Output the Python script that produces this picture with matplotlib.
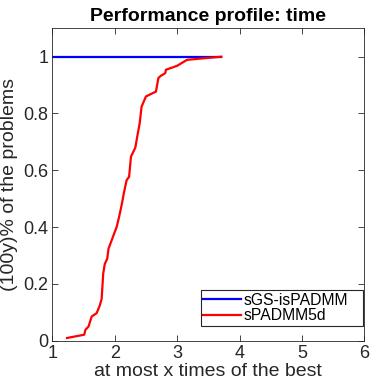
import numpy as np
import matplotlib
matplotlib.use("Agg")
import matplotlib.pyplot as plt

plt.rcParams['font.family'] = ['Liberation Sans', 'DejaVu Sans']

# performance profile values
x_gs = [1.0, 3.71]
y_gs = [1.0, 1.0]

x_sp = [1.235, 1.51, 1.53, 1.58, 1.63, 1.71, 1.76, 1.79, 1.815, 1.84, 1.88, 1.90,
        1.95, 1.99, 2.03, 2.07, 2.11, 2.15, 2.19, 2.23, 2.26, 2.33, 2.36, 2.40,
        2.43, 2.50, 2.66, 2.70, 2.74, 2.81, 2.82, 3.00, 3.16, 3.71]
y_sp = [0.0095, 0.021, 0.038, 0.05, 0.085, 0.097, 0.124, 0.147, 0.236, 0.27, 0.289, 0.324,
        0.353, 0.377, 0.40, 0.436, 0.477, 0.524, 0.565, 0.577, 0.648, 0.68, 0.718, 0.766,
        0.824, 0.86, 0.877, 0.925, 0.933, 0.942, 0.954, 0.968, 0.989, 1.0]

grey = '#262626'

fig = plt.figure(figsize=(3.74, 3.84), dpi=100)
ax = fig.add_axes([0.140, 0.1128, 0.834, 0.8135])

ax.plot(x_gs, y_gs, color='#0000ff', lw=1.6, label='sGS-isPADMM')
ax.plot(x_sp, y_sp, color='#ff0000', lw=1.6, label='sPADMM5d')

ax.set_xlim(1, 6)
ax.set_ylim(0, 1.1)
ax.set_xticks([1, 2, 3, 4, 5, 6])
ax.set_yticks([0, 0.2, 0.4, 0.6, 0.8, 1])
ax.set_yticklabels(['0', '0.2', '0.4', '0.6', '0.8', '1'])
ax.tick_params(direction='in', top=True, right=True, labelsize=13, length=4, width=0.6,
               colors=grey, pad=3)
for s in ax.spines.values():
    s.set_linewidth(0.6)
    s.set_color(grey)

ax.set_xlabel('at most x times of the best', fontsize=14, color=grey, labelpad=1)
ax.set_ylabel('(100y)% of the problems', fontsize=14, color=grey, labelpad=4)
ax.set_title('Performance profile: time', fontsize=14, fontweight='bold', pad=5)

# legend box stretched to the width MATLAB used, text kept on the left
leg = ax.legend(loc='lower left', bbox_to_anchor=(0.4756, 0.048, 0.519, 0.1005),
                mode='expand', fontsize=11.3, fancybox=False, edgecolor=grey,
                framealpha=1, borderaxespad=0, handlelength=2.4, borderpad=0.15,
                labelspacing=0.05, handletextpad=0.2)
leg.get_frame().set_linewidth(0.8)

fig.savefig('out.png', dpi=100)
